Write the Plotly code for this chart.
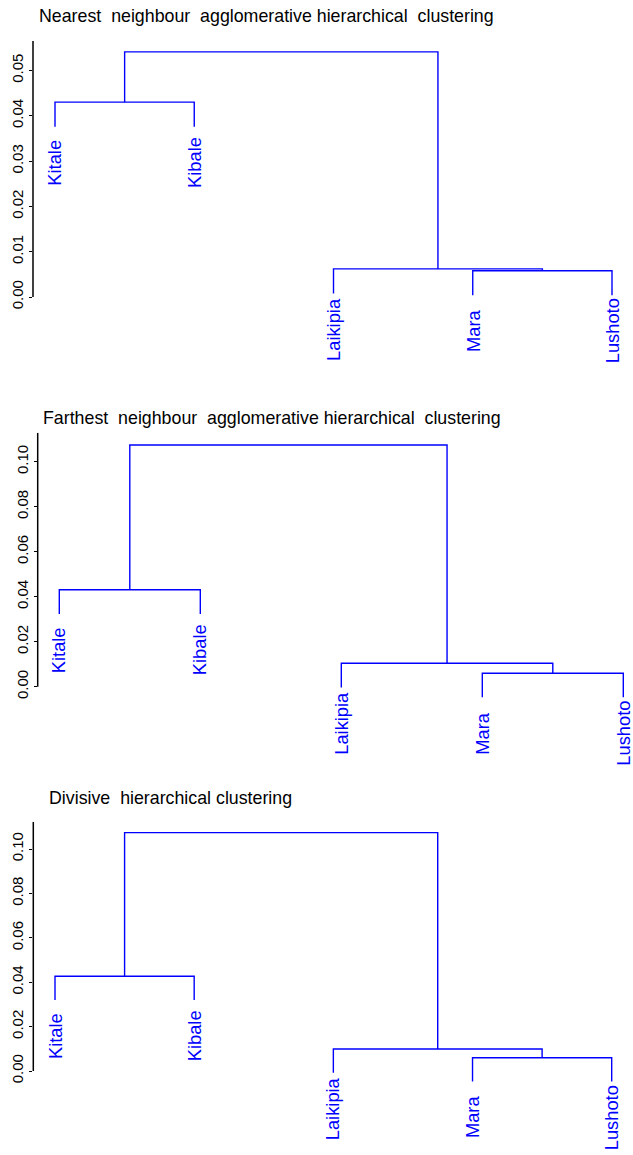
import plotly.graph_objects as go

W, H = 633, 1155
FONT = "Liberation Sans, Arial, sans-serif"

# ---- data ----
leaf_labels = ["Kitale", "Kibale", "Laikipia", "Mara", "Lushoto"]
# merge steps (R hclust style: negative = leaf index, positive = earlier merge)
merge_steps = [[-1, -2], [-4, -5], [-3, 2], [1, 3]]
titles = [
    "Nearest\u00a0 neighbour\u00a0 agglomerative hierarchical\u00a0 clustering",
    "Farthest\u00a0 neighbour\u00a0 agglomerative hierarchical\u00a0 clustering",
    "Divisive\u00a0 hierarchical clustering",
]
nearest_heights = [0.0430, 0.0058, 0.0062, 0.0541]
farthest_heights = [0.0431, 0.0060, 0.0104, 0.1074]
divisive_heights = [0.0427, 0.0060, 0.0099, 0.1074]
tick_values_1 = [0.00, 0.01, 0.02, 0.03, 0.04, 0.05]
tick_values_2 = [0.00, 0.02, 0.04, 0.06, 0.08, 0.10]
tick_values_3 = [0.00, 0.02, 0.04, 0.06, 0.08, 0.10]

# ---- layout geometry (pixels) ----
panels = [
    dict(title=titles[0], heights=nearest_heights, ticks=tick_values_1,
         axis_px=33, leaf1_px=55, leafN_px=612, zero_px=297, top_px=41, top_val=0.0565,
         title_x=37, title_base=23),
    dict(title=titles[1], heights=farthest_heights, ticks=tick_values_2,
         axis_px=37.7, leaf1_px=59.3, leafN_px=623.3, zero_px=686.7, top_px=432.7, top_val=0.1129,
         title_x=40.7, title_base=425),
    dict(title=titles[2], heights=divisive_heights, ticks=tick_values_3,
         axis_px=33.3, leaf1_px=55, leafN_px=611.7, zero_px=1071, top_px=821.7, top_val=0.1123,
         title_x=46.7, title_base=805),
]


def dendro_segments(merge, heights, n, hang=0.1):
    """Return list of polyline segments (xs, ys) and leaf bottoms."""
    hang_len = hang * max(heights)
    pos = {}
    segs = []
    leaf_bottom = [None] * n
    for i, (a, b) in enumerate(merge):
        h = heights[i]
        pts = []
        for node in (a, b):
            if node < 0:
                x = -node
                yb = h - hang_len
                leaf_bottom[x - 1] = yb
                pts.append((x, yb))
            else:
                pts.append(pos[node])
        (xa, ya), (xb, yb) = pts
        segs.append(([xa, xa, xb, xb], [ya, h, h, yb]))
        pos[i + 1] = ((xa + xb) / 2, h)
    return segs, leaf_bottom


fig = go.Figure()
n = len(leaf_labels)
annotations = []
shapes = []

for k, p in enumerate(panels):
    ax = "" if k == 0 else str(k + 1)
    xname, yname = "x" + ax, "y" + ax
    segs, leaf_bottom = dendro_segments(merge_steps, p["heights"], n)
    for xs, ys in segs:
        fig.add_trace(go.Scatter(x=xs, y=ys, mode="lines",
                                 line=dict(color="#0000ff", width=1.4),
                                 xaxis=xname, yaxis=yname, showlegend=False,
                                 hoverinfo="skip", cliponaxis=False))
    ppu = (p["zero_px"] - p["top_px"]) / p["top_val"]
    ymin = -0.3 * p["top_val"]
    bottom_px = p["zero_px"] - ymin * ppu
    sp = (p["leafN_px"] - p["leaf1_px"]) / (n - 1)
    xr = [1 - (p["leaf1_px"] - p["axis_px"]) / sp, 1 + (W - p["leaf1_px"]) / sp]
    fig.layout["xaxis" + ax] = dict(domain=[p["axis_px"] / W, 1], range=xr,
                                    visible=False, anchor=yname, fixedrange=True)
    fig.layout["yaxis" + ax] = dict(domain=[(H - bottom_px) / H, (H - p["top_px"]) / H],
                                    range=[ymin, p["top_val"]], anchor=xname,
                                    showgrid=False, zeroline=False, showline=False,
                                    tickvals=p["ticks"], tickformat=".2f",
                                    ticks="outside", ticklen=3, tickwidth=1,
                                    tickcolor="black", tickangle=-90,
                                    tickfont=dict(family=FONT, size=15, color="black"),
                                    fixedrange=True)
    shapes.append(dict(type="line", xref=xname + " domain", yref=yname,
                       x0=0, x1=0, y0=0, y1=p["top_val"],
                       line=dict(color="black", width=1.5)))
    for i, lab in enumerate(leaf_labels):
        annotations.append(dict(x=i + 1, y=leaf_bottom[i], xref=xname, yref=yname,
                                text=lab, showarrow=False, textangle=-90,
                                xanchor="center", yanchor="middle", yshift=-36,
                                font=dict(family=FONT, size=18.3, color="#0000ff")))
    annotations.append(dict(x=p["title_x"] / W, y=(H - p["title_base"] - 5) / H,
                            xref="paper", yref="paper", text=p["title"],
                            showarrow=False, xanchor="left", yanchor="bottom",
                            font=dict(family=FONT, size=17.8, color="black")))

fig.update_layout(width=W, height=H, margin=dict(l=0, r=0, t=0, b=0),
                  paper_bgcolor="white", plot_bgcolor="white",
                  annotations=annotations, shapes=shapes, showlegend=False)

fig.write_html("out.html", config={"displayModeBar": False},
               post_script="document.body.style.margin='0';document.body.style.overflow='hidden';")
